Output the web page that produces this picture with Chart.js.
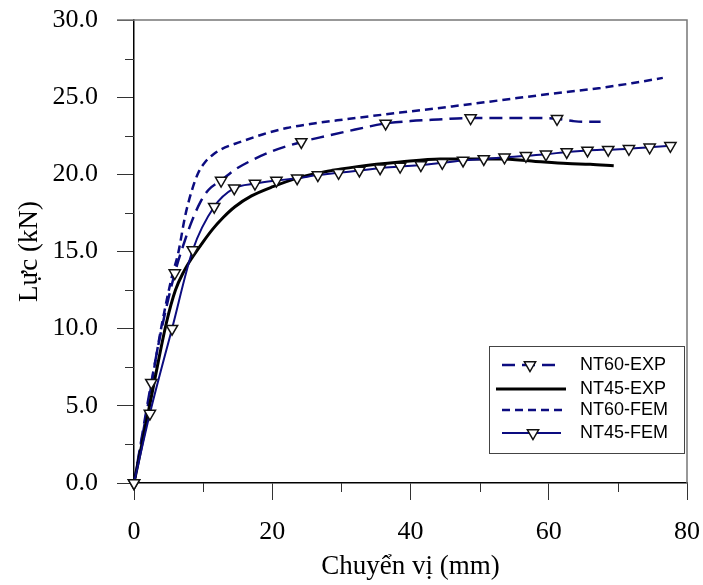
<!DOCTYPE html>
<html>
<head>
<meta charset="utf-8">
<script src="https://cdn.jsdelivr.net/npm/chart.js@4"></script>
<style>
  html, body { margin: 0; padding: 0; background: #fff; }
  canvas { display: block; }
</style>
</head>
<body>
<canvas id="chart" width="703" height="585"></canvas>
<script>
// displacement (mm) / force (kN)
const nt60ExpX = [0, 2.5, 4, 5.9, 7.2, 8.4, 9.6, 10.8, 12.6, 14.6, 17, 20, 24.2, 28, 32, 36.4, 40, 44, 48.7, 53, 57, 61.2, 63.5, 65, 67.5];
const nt60ExpY = [0, 6.5, 10, 13.6, 15.5, 17.0, 18.2, 19.0, 19.6, 20.3, 20.9, 21.5, 22.1, 22.5, 22.9, 23.3, 23.45, 23.55, 23.65, 23.65, 23.65, 23.6, 23.45, 23.4, 23.4];
const nt60ExpMarkX = [0, 2.5, 5.9, 12.6, 24.2, 36.4, 48.7, 61.2];
const nt60ExpMarkY = [0, 6.5, 13.6, 19.6, 22.1, 23.3, 23.65, 23.6];

const nt45ExpX = [0, 1.5, 3, 4.7, 6, 7.2, 8.4, 9.8, 11.3, 12.9, 14.6, 17, 20.1, 24, 28, 32.3, 38.5, 44.3, 50, 53, 57.8, 62.7, 66, 69.4];
const nt45ExpY = [0, 3.3, 6.7, 10.4, 12.5, 13.7, 14.6, 15.5, 16.4, 17.2, 17.9, 18.6, 19.2, 19.8, 20.2, 20.5, 20.8, 21.0, 21.0, 21.0, 20.85, 20.7, 20.65, 20.55];

const nt60FemX = [0, 2, 4, 5.5, 6.4, 7.4, 8.4, 9.3, 10.3, 11.5, 12.5, 15.4, 18.7, 22.1, 26, 29.4, 38.5, 46, 53, 60, 67.5, 72, 76.5];
const nt60FemY = [0, 5.0, 10.2, 13.4, 14.9, 17.3, 19.0, 20.1, 20.8, 21.3, 21.6, 22.1, 22.6, 23.0, 23.3, 23.5, 24.0, 24.4, 24.8, 25.2, 25.6, 25.9, 26.25];

const nt45FemX = [0, 2.3, 5.5, 8.5, 11.6, 14.5, 17.5, 20.6, 23.6, 26.6, 29.6, 32.6, 35.6, 38.5, 41.5, 44.6, 47.6, 50.6, 53.6, 56.7, 59.6, 62.6, 65.6, 68.6, 71.6, 74.6, 77.6];
const nt45FemY = [0, 4.5, 10.0, 15.1, 17.9, 19.1, 19.4, 19.6, 19.75, 19.95, 20.1, 20.25, 20.4, 20.5, 20.6, 20.75, 20.9, 21.0, 21.1, 21.2, 21.3, 21.45, 21.55, 21.6, 21.65, 21.75, 21.85];

const seriesNames = ['NT60-EXP', 'NT45-EXP', 'NT60-FEM', 'NT45-FEM'];

const NAVY = '#0c0c80';
const pts = (xs, ys) => xs.map((x, i) => ({ x, y: ys[i] }));

const marker = {
  pointStyle: 'triangle', pointRotation: 180, pointRadius: 6.5,
  pointBackgroundColor: '#fff', pointBorderColor: '#111', pointBorderWidth: 1.5
};

// minor ticks, top/right frame and the boxed legend
const extras = {
  id: 'extras',
  afterDraw(chart) {
    const { ctx, chartArea: a, scales: { x, y } } = chart;
    ctx.save();
    ctx.strokeStyle = '#333';
    ctx.lineWidth = 1;
    ctx.beginPath();
    for (let v = 2.5; v < 30; v += 5) {
      const py = Math.round(y.getPixelForValue(v)) + 0.5;
      ctx.moveTo(a.left - 9, py); ctx.lineTo(a.left, py);
    }
    for (let v = 10; v < 80; v += 20) {
      const px = Math.round(x.getPixelForValue(v)) + 0.5;
      ctx.moveTo(px, a.bottom); ctx.lineTo(px, a.bottom + 9);
    }
    ctx.stroke();

    ctx.strokeStyle = '#777';
    ctx.lineWidth = 1.5;
    ctx.beginPath();
    ctx.moveTo(a.left - 17, a.top); ctx.lineTo(a.right, a.top);
    ctx.lineTo(a.right, a.bottom);
    ctx.stroke();

    // legend
    const bx = 489, by = 346, bw = 195, bh = 107;
    ctx.fillStyle = '#fff';
    ctx.fillRect(bx, by, bw, bh);
    ctx.strokeStyle = '#444';
    ctx.lineWidth = 1;
    ctx.strokeRect(bx + 0.5, by + 0.5, bw, bh);
    const rows = [365, 389, 410, 433];
    const styles = [
      { color: NAVY, w: 2.5, dash: [13, 7], x0: 502, x1: 558, mark: 530 },
      { color: '#000', w: 3, dash: [], x0: 496, x1: 566 },
      { color: NAVY, w: 2.5, dash: [8, 5], x0: 502, x1: 562 },
      { color: NAVY, w: 2, dash: [], x0: 502, x1: 561, mark: 533 }
    ];
    styles.forEach((s, i) => {
      const ry = rows[i];
      ctx.strokeStyle = s.color;
      ctx.lineWidth = s.w;
      ctx.setLineDash(s.dash);
      ctx.beginPath(); ctx.moveTo(s.x0, ry); ctx.lineTo(s.x1, ry); ctx.stroke();
      ctx.setLineDash([]);
      if (s.mark) {
        const r = 6.5;
        ctx.beginPath();
        ctx.moveTo(s.mark, ry + r);
        ctx.lineTo(s.mark - r * 0.866, ry - r / 2);
        ctx.lineTo(s.mark + r * 0.866, ry - r / 2);
        ctx.closePath();
        ctx.fillStyle = '#fff'; ctx.fill();
        ctx.strokeStyle = '#111'; ctx.lineWidth = 1.5; ctx.stroke();
      }
      ctx.fillStyle = '#000';
      ctx.font = '18px "Liberation Sans", Arial, sans-serif';
      ctx.textBaseline = 'middle';
      ctx.textAlign = 'left';
      ctx.fillText(seriesNames[i], 580, ry);
    });
    ctx.restore();
  }
};

const tickFont = { family: '"Liberation Serif", "Times New Roman", serif', size: 26 };
const titleFont = { family: '"Liberation Serif", "Times New Roman", serif', size: 27 };

new Chart(document.getElementById('chart').getContext('2d'), {
  type: 'line',
  data: {
    datasets: [
      { label: seriesNames[3], data: pts(nt45FemX, nt45FemY), borderColor: NAVY, borderWidth: 2,
        cubicInterpolationMode: 'monotone', ...marker, order: 1, clip: 12 },
      { label: seriesNames[0] + ' markers', data: pts(nt60ExpMarkX, nt60ExpMarkY), showLine: false,
        ...marker, order: 0, clip: 12 },
      { label: seriesNames[0], data: pts(nt60ExpX, nt60ExpY), borderColor: NAVY, borderWidth: 2.5,
        borderDash: [13, 7], pointRadius: 0, cubicInterpolationMode: 'monotone', order: 3, clip: 4 },
      { label: seriesNames[1], data: pts(nt45ExpX, nt45ExpY), borderColor: '#000', borderWidth: 3,
        pointRadius: 0, cubicInterpolationMode: 'monotone', order: 2, clip: 4 },
      { label: seriesNames[2], data: pts(nt60FemX, nt60FemY), borderColor: NAVY, borderWidth: 2.5,
        borderDash: [8, 5], pointRadius: 0, cubicInterpolationMode: 'monotone', order: 4, clip: 4 }
    ]
  },
  options: {
    responsive: false,
    animation: false,
    layout: { padding: { left: 0, right: 16, top: 20, bottom: 0 } },
    plugins: { legend: { display: false }, tooltip: { enabled: false } },
    scales: {
      x: {
        type: 'linear', min: 0, max: 80,
        ticks: { stepSize: 20, color: '#000', font: tickFont, padding: 17, maxRotation: 0 },
        grid: { drawOnChartArea: false, tickLength: 17, tickColor: '#333', tickWidth: 1 },
        border: { color: '#000', width: 1.5 },
        title: { display: true, text: 'Chuyển vị (mm)', color: '#000', font: titleFont, padding: { top: 0, bottom: 2 } },
        afterFit(s) { s.height = 102; s.paddingLeft = 0; s.paddingRight = 0; }
      },
      y: {
        min: 0, max: 30,
        ticks: { stepSize: 5, color: '#000', font: tickFont, padding: 19, callback: v => v.toFixed(1) },
        grid: { drawOnChartArea: false, tickLength: 17, tickColor: '#333', tickWidth: 1 },
        border: { color: '#000', width: 1.5 },
        title: { display: true, text: 'Lực (kN)', color: '#000', font: titleFont, padding: { top: 14, bottom: 0 } },
        afterFit(s) { s.width = 134; s.paddingTop = 0; s.paddingBottom = 0; }
      }
    }
  },
  plugins: [extras]
});
</script>
</body>
</html>
